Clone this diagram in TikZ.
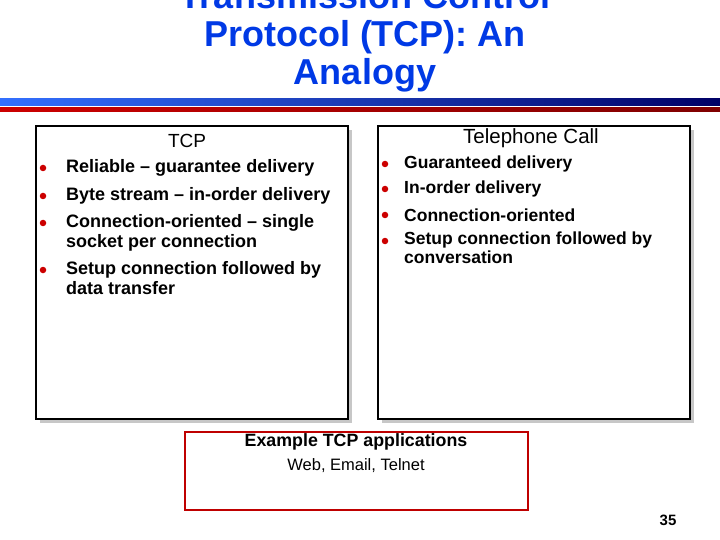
\documentclass[tikz,border=0pt]{standalone}
\usepackage{fontspec}
\setmainfont{Liberation Sans}
\begin{document}
\begin{tikzpicture}[x=1pt,y=-1pt,
  box/.style={draw=black,line width=1.3pt,fill=white},
  shadow/.style={fill=black!22},
  txt/.style={anchor=west,inner sep=0pt,font=\bfseries\fontsize{18}{20}\selectfont},
  txtr/.style={anchor=west,inner sep=0pt,font=\bfseries\fontsize{17.5}{19}\selectfont},
  dot/.style={circle,fill=red!80!black,inner sep=0pt,minimum size=6.5pt}]
\useasboundingbox (0,0) rectangle (720,540);
% title
\node[text=blue!75!cyan!90!black,font=\bfseries\fontsize{36}{38}\selectfont,align=center] (title) at (365,37) {Transmission Control\\Protocol (TCP): An\\Analogy};
\shade[left color=blue!70!cyan!80,right color=blue!40!black] (0,99) rectangle (720,106);
\shade[left color=red!80!black,right color=red!50!black] (0,108) rectangle (720,112);
% boxes
\fill[shadow] (40,130) rectangle (352,423);
\draw[box] (36,126) rectangle (348,419);
\fill[shadow] (382,130) rectangle (694,423);
\draw[box] (378,126) rectangle (690,419);
\draw[red!75!black,line width=1.2pt,fill=white] (185,432) rectangle (528,510);
% left
\node[font=\fontsize{19}{20}\selectfont] (tcp) at (187,141) {TCP};
\foreach \y in {168,196,223,270} \node[dot] at (43,\y) {};
\node[txt] (l1) at (66,168) {Reliable -- guarantee delivery};
\node[txt] (l2) at (66,196) {Byte stream -- in-order delivery};
\node[txt,anchor=north west,align=left] (l3) at (66,214) {Connection-oriented -- single\\socket per connection};
\node[txt,anchor=north west,align=left] (l4) at (66,261) {Setup connection followed by\\data transfer};
% right
\node[font=\fontsize{20.5}{22}\selectfont] (tel) at (531,138) {Telephone Call};
\foreach \y in {164,189,215,241} \node[dot] at (385,\y) {};
\node[txtr] (r1) at (404,164) {Guaranteed delivery};
\node[txtr] (r2) at (404,189) {In-order delivery};
\node[txtr] (r3) at (404,215) {Connection-oriented};
\node[txtr,anchor=north west,align=left] (r4) at (404,232) {Setup connection followed by\\conversation};
% bottom
\node[font=\bfseries\fontsize{17.8}{19}\selectfont] (ex) at (356,442) {Example TCP applications};
\node[font=\fontsize{16.5}{17}\selectfont] (ap) at (356,466) {Web, Email, Telnet};
\node[font=\bfseries\fontsize{15}{18}\selectfont] (pg) at (668,520) {35};
\end{tikzpicture}
\end{document}
